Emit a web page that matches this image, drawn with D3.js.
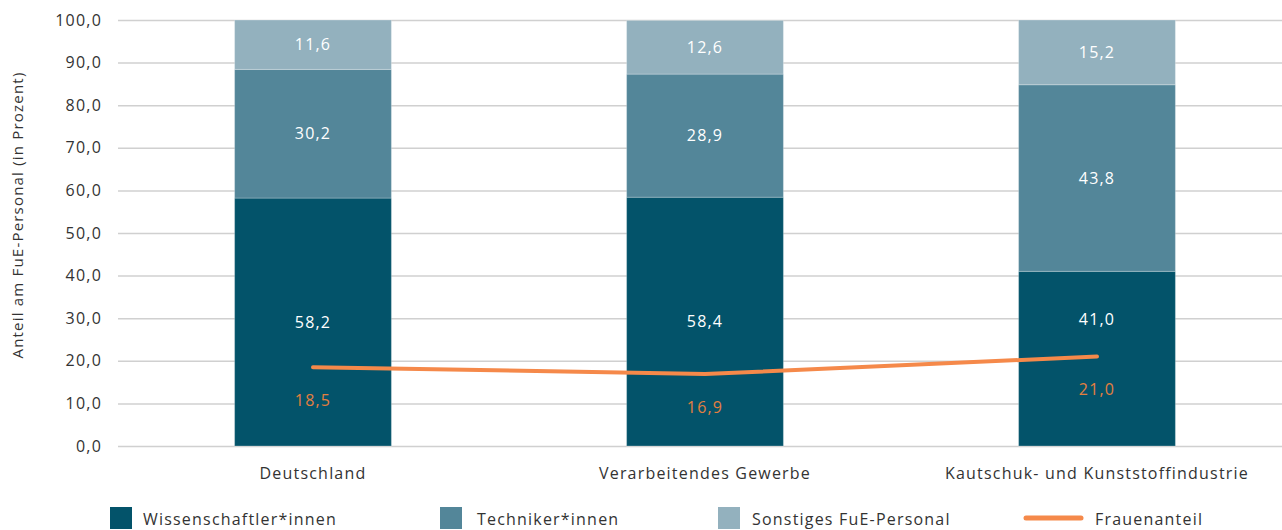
<!DOCTYPE html>
<html>
<head>
<meta charset="utf-8">
<script src="https://cdn.jsdelivr.net/npm/d3@7"></script>
<style>
  html, body { margin: 0; padding: 0; background: #fff; }
  svg { display: block; font-family: "Open Sans", Lato, sans-serif; letter-spacing: 1.2px; }
</style>
</head>
<body>
<svg id="chart" width="1282" height="530"></svg>
<script>
// Anteil am FuE-Personal nach Personalgruppe, mit Frauenanteil
const categories = ["Deutschland", "Verarbeitendes Gewerbe", "Kautschuk- und Kunststoffindustrie"];
const seriesNames = ["Wissenschaftler*innen", "Techniker*innen", "Sonstiges FuE-Personal"];
const wissenschaftler = [58.2, 58.4, 41.0];
const techniker = [30.2, 28.9, 43.8];
const sonstiges = [11.6, 12.6, 15.2];
const frauenanteil = [18.5, 16.9, 21.0];
const lineName = "Frauenanteil";
const yTicks = [0, 10, 20, 30, 40, 50, 60, 70, 80, 90, 100];
const yTitle = "Anteil am FuE-Personal (in Prozent)";

const colors = ["#03536a", "#538699", "#93b1be"];
const orange = "#f5894a";
const orangeText = "#e47f3f";
const textColor = "#333";
const fmt = v => v.toFixed(1).replace(".", ",");

const svg = d3.select("#chart");

const x = d3.scaleBand()
  .domain(categories)
  .range([117, 1293])
  .paddingInner(0.6)
  .paddingOuter(0.3);

const y = d3.scaleLinear().domain([0, 100]).range([446, 20]);
const cx = c => x(c) + x.bandwidth() / 2;

// Gridlines and tick labels
const yAxis = d3.axisLeft(y)
  .tickValues(yTicks)
  .tickSize(-1170)
  .tickPadding(16)
  .tickFormat(fmt);

const gy = svg.append("g")
  .attr("transform", "translate(118,0)")
  .call(yAxis);
gy.select(".domain").remove();
gy.selectAll(".tick line").attr("stroke", "#d0d0d0").attr("stroke-width", 1.5);
gy.selectAll(".tick text")
  .attr("fill", textColor)
  .style("font-size", "16px")
  .style("font-family", "'Open Sans', Lato, sans-serif");

svg.append("text")
  .attr("transform", "translate(23,215) rotate(-90)")
  .attr("text-anchor", "middle")
  .attr("fill", textColor)
  .style("font-size", "15px")
  .text(yTitle);

// Stacked bars
const rows = categories.map((c, i) => ({
  cat: c,
  [seriesNames[0]]: wissenschaftler[i],
  [seriesNames[1]]: techniker[i],
  [seriesNames[2]]: sonstiges[i]
}));
const stacked = d3.stack().keys(seriesNames)(rows);

const layers = svg.append("g").selectAll("g")
  .data(stacked)
  .join("g")
  .attr("fill", (d, i) => colors[i]);

layers.selectAll("rect")
  .data(d => d)
  .join("rect")
  .attr("x", d => x(d.data.cat))
  .attr("width", x.bandwidth())
  .attr("y", d => y(d[1]))
  .attr("height", d => y(d[0]) - y(d[1]))
  .attr("stroke", "rgba(255,255,255,0.25)")
  .attr("stroke-width", 1);

// Segment value labels; keep them clear of the line and its labels
layers.selectAll("text")
  .data(d => d.map((v, i) => ({ v, i })))
  .join("text")
  .attr("x", d => cx(d.v.data.cat))
  .attr("y", d => {
    const mid = y((d.v[0] + d.v[1]) / 2);
    const lineY = y(frauenanteil[d.i]);
    return d.v[0] === 0 ? Math.min(mid, lineY - 37) : mid;
  })
  .attr("dy", "0.35em")
  .attr("text-anchor", "middle")
  .attr("fill", "#fff")
  .style("font-size", "16px")
  .text(d => fmt(d.v[1] - d.v[0]));

// Frauenanteil line
const line = d3.line()
  .x((d, i) => cx(categories[i]))
  .y(d => y(d));

svg.append("path")
  .datum(frauenanteil)
  .attr("d", line)
  .attr("fill", "none")
  .attr("stroke", orange)
  .attr("stroke-width", 4)
  .attr("stroke-linecap", "round")
  .attr("stroke-linejoin", "round");

svg.append("g").selectAll("text")
  .data(frauenanteil)
  .join("text")
  .attr("x", (d, i) => cx(categories[i]))
  .attr("y", d => y(d) + 33)
  .attr("dy", "0.35em")
  .attr("text-anchor", "middle")
  .attr("fill", orangeText)
  .style("font-size", "16px")
  .text(fmt);

// Category axis labels
svg.append("g").selectAll("text")
  .data(categories)
  .join("text")
  .attr("x", cx)
  .attr("y", 473)
  .attr("dy", "0.35em")
  .attr("text-anchor", "middle")
  .attr("fill", textColor)
  .style("font-size", "16px")
  .text(d => d);

// Legend
const legendItems = [
  { name: seriesNames[0], type: "rect", color: colors[0], x: 110, tx: 143 },
  { name: seriesNames[1], type: "rect", color: colors[1], x: 440, tx: 477 },
  { name: seriesNames[2], type: "rect", color: colors[2], x: 718, tx: 752 },
  { name: lineName, type: "line", color: orange, x: 1026, tx: 1095 }
];
const lg = svg.append("g");
legendItems.forEach(it => {
  if (it.type === "rect") {
    lg.append("rect")
      .attr("x", it.x).attr("y", 507)
      .attr("width", 22).attr("height", 22)
      .attr("fill", it.color);
  } else {
    lg.append("line")
      .attr("x1", it.x).attr("x2", it.x + 55)
      .attr("y1", 518).attr("y2", 518)
      .attr("stroke", it.color)
      .attr("stroke-width", 5)
      .attr("stroke-linecap", "round");
  }
  lg.append("text")
    .attr("x", it.tx).attr("y", 519)
    .attr("dy", "0.35em")
    .attr("fill", textColor)
    .style("font-size", "16px")
    .text(it.name);
});
</script>
</body>
</html>
